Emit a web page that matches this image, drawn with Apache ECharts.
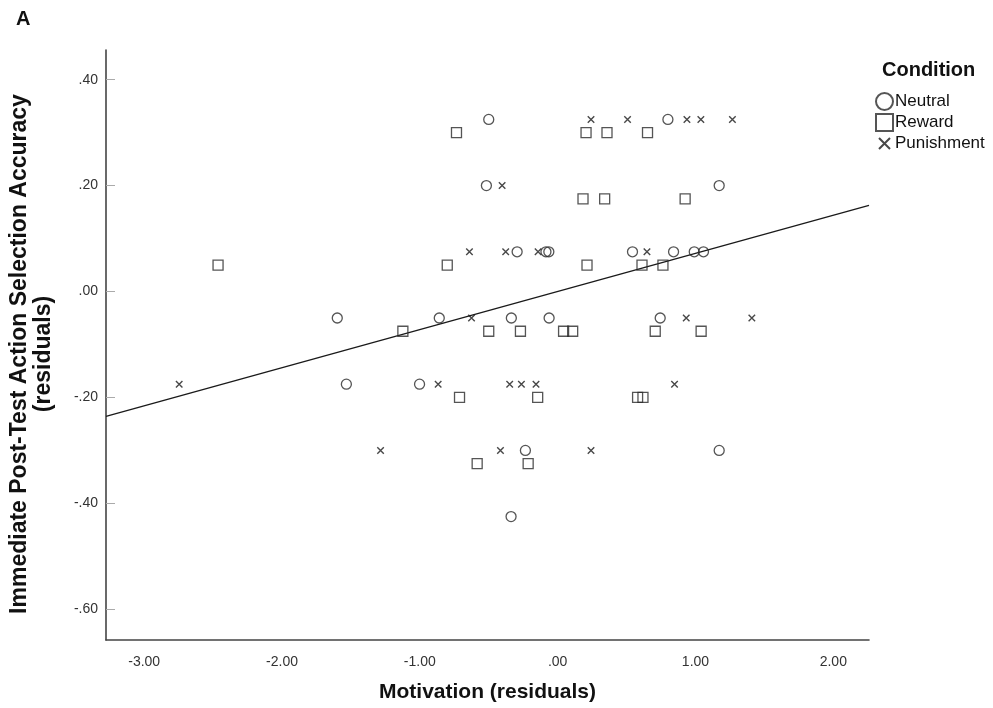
<!DOCTYPE html>
<html>
<head>
<meta charset="utf-8">
<script src="https://cdn.jsdelivr.net/npm/echarts@6/dist/echarts.min.js"></script>
<style>html,body{margin:0;padding:0;background:#fff;}#c{width:993px;height:708px;}</style>
</head>
<body>
<div id="c"></div>
<script>
// ---- data ----
const neutralX = [-0.50, 0.80, -0.517, 1.172, -0.294, -0.085, -0.064, 0.543, 0.841, 0.991, 1.058,
                  -1.599, -0.859, -0.336, -0.062, 0.744, -1.533, -1.002, -0.234, 1.172, -0.338];
const neutralY = [0.325, 0.325, 0.20, 0.20, 0.075, 0.075, 0.075, 0.075, 0.075, 0.075, 0.075,
                  -0.05, -0.05, -0.05, -0.05, -0.05, -0.175, -0.175, -0.30, -0.30, -0.425];
const rewardX = [-0.734, 0.206, 0.358, 0.652, 0.184, 0.341, 0.925, -2.464, -0.801, 0.213, 0.612, 0.764,
                 -1.123, -0.50, -0.270, 0.043, 0.109, 0.708, 1.041, -0.712, -0.145, 0.58, 0.619, -0.584, -0.214];
const rewardY = [0.30, 0.30, 0.30, 0.30, 0.175, 0.175, 0.175, 0.05, 0.05, 0.05, 0.05, 0.05,
                 -0.075, -0.075, -0.075, -0.075, -0.075, -0.075, -0.075, -0.20, -0.20, -0.20, -0.20, -0.325, -0.325];
const punishX = [0.242, 0.507, 0.938, 1.039, 1.268, -0.403, -0.640, -0.377, -0.142, 0.648,
                 -0.625, 0.933, 1.409, -2.746, -0.867, -0.348, -0.263, -0.157, 0.848, -1.285, -0.415, 0.242];
const punishY = [0.325, 0.325, 0.325, 0.325, 0.325, 0.20, 0.075, 0.075, 0.075, 0.075,
                 -0.05, -0.05, -0.05, -0.175, -0.175, -0.175, -0.175, -0.175, -0.175, -0.30, -0.30, -0.30];
const conditionNames = ['Neutral', 'Reward', 'Punishment'];
const xTicks = [-3, -2, -1, 0, 1, 2];
const yTicks = [-0.6, -0.4, -0.2, 0, 0.2, 0.4];
const fitSlope = 0.072;
const fitIntercept = 0.0;
const xRange = [-3.277, 2.259];
const yRange = [-0.658, 0.456];

// ---- helpers ----
function pairs(xs, ys) { return xs.map((x, i) => [x, ys[i]]); }
function fmt(v) {
  let s = Math.abs(v).toFixed(2);
  if (s.charAt(0) === '0') s = s.slice(1);
  return (v < -1e-9 ? '-' : '') + s;
}
const FONT = '"Liberation Sans", Arial, Helvetica, sans-serif';
const hollow = { color: 'rgba(0,0,0,0)', borderColor: '#2a2a2a', borderWidth: 1.3 };
const crossPath = 'path://M0,0L10,10M0,10L10,0';
const crossLegend = 'path://M0,0M17,17M3,3L14,14M3,14L14,3';

const chart = echarts.init(document.getElementById('c'), null, { renderer: 'canvas' });
chart.setOption({
  backgroundColor: '#fff',
  animation: false,
  textStyle: { fontFamily: FONT },
  title: [
    { text: 'A', left: 11, top: 4, textStyle: { fontSize: 20, fontWeight: 'bold', color: '#111', fontFamily: FONT } },
    { text: 'Condition', left: 877, top: 55, textStyle: { fontSize: 20, fontWeight: 'bold', color: '#111', fontFamily: FONT } }
  ],
  legend: {
    orient: 'vertical',
    left: 870,
    top: 87,
    itemWidth: 17,
    itemHeight: 17,
    itemGap: 2,
    textStyle: { fontSize: 17, color: '#111', fontFamily: FONT, padding: [0, 0, 0, -3] },
    data: [
      { name: conditionNames[0], icon: 'circle' },
      { name: conditionNames[1], icon: 'rect' },
      { name: conditionNames[2], icon: crossLegend }
    ]
  },
  grid: { left: 105, right: 124, top: 50, bottom: 68, containLabel: false },
  xAxis: {
    type: 'value',
    min: xRange[0], max: xRange[1],
    name: 'Motivation (residuals)',
    nameLocation: 'middle',
    nameGap: 42,
    nameTextStyle: { fontSize: 21, fontWeight: 'bold', color: '#111', fontFamily: FONT },
    axisLine: { show: true, onZero: false, lineStyle: { color: '#444', width: 1.6 } },
    axisTick: { show: false },
    splitLine: { show: false },
    axisLabel: { customValues: xTicks, formatter: fmt, fontSize: 14, color: '#333', margin: 15, fontFamily: FONT }
  },
  yAxis: {
    type: 'value',
    min: yRange[0], max: yRange[1],
    name: 'Immediate Post-Test Action Selection Accuracy\n(residuals)',
    nameLocation: 'middle',
    nameRotate: 90,
    nameGap: 50,
    nameTextStyle: { fontSize: 23, fontWeight: 'bold', color: '#111', lineHeight: 24, fontFamily: FONT, padding: [0, 18, 0, 0] },
    axisLine: { show: true, onZero: false, lineStyle: { color: '#444', width: 1.6 } },
    axisTick: { show: true, inside: true, length: 9, customValues: yTicks, lineStyle: { color: '#aaa', width: 1 } },
    splitLine: { show: false },
    axisLabel: { customValues: yTicks, formatter: fmt, fontSize: 14, color: '#333', margin: 8, fontFamily: FONT }
  },
  series: [
    {
      name: conditionNames[0], type: 'scatter', symbol: 'circle', symbolSize: 10,
      itemStyle: hollow, data: pairs(neutralX, neutralY), z: 3
    },
    {
      name: conditionNames[1], type: 'scatter', symbol: 'rect', symbolSize: 10,
      itemStyle: hollow, data: pairs(rewardX, rewardY), z: 3
    },
    {
      name: conditionNames[2], type: 'scatter', symbol: crossPath, symbolSize: 6.5,
      itemStyle: { color: 'rgba(0,0,0,0)', borderColor: '#1a1a1a', borderWidth: 1.4 },
      data: pairs(punishX, punishY), z: 3
    },
    {
      name: 'Fit', type: 'line', showSymbol: false, silent: true, z: 2,
      lineStyle: { color: '#1a1a1a', width: 1.3 },
      data: xRange.map(x => [x, fitIntercept + fitSlope * x])
    }
  ]
});
</script>
</body>
</html>
